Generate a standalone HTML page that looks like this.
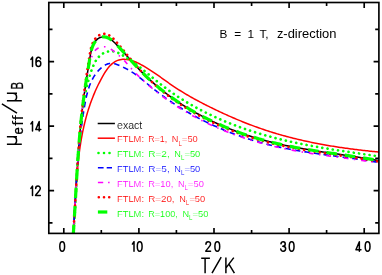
<!DOCTYPE html>
<html><head><meta charset="utf-8"><title>chart</title>
<style>html,body{margin:0;padding:0;background:#fff}svg{display:block}text{font-family:"Liberation Sans",sans-serif}</style>
</head><body>
<svg width="382" height="275" viewBox="0 0 382 275">
<rect width="382" height="275" fill="#fff"/>
<defs><filter id="id" x="0" y="0" width="100%" height="100%" filterUnits="userSpaceOnUse" primitiveUnits="userSpaceOnUse" color-interpolation-filters="sRGB"><feOffset dx="0" dy="0"/></filter></defs>
<g filter="url(#id)">
<defs><clipPath id="c"><rect x="48.8" y="2.5" width="330.1" height="230.9"/></clipPath></defs>
<g clip-path="url(#c)" fill="none" stroke-linejoin="round">

<path d="M72.53,244.97 L72.64,243.47 L72.75,241.97 L72.86,240.47 L72.97,238.97 L73.07,237.47 L73.18,235.97 L73.28,234.47 L73.38,232.97 L73.48,231.47 L73.58,229.96 L73.68,228.46 L73.78,226.96 L73.87,225.45 L73.97,223.95 L74.06,222.44 L74.16,220.94 L74.25,219.43 L74.34,217.93 L74.43,216.42 L74.52,214.91 L74.61,213.40 L74.70,211.90 L74.79,210.39 L74.88,208.88 L74.97,207.37 L75.06,205.86 L75.15,204.36 L75.23,202.85 L75.32,201.34 L75.41,199.83 L75.49,198.32 L75.58,196.81 L75.67,195.30 L75.75,193.79 L75.84,192.28 L75.93,190.77 L76.02,189.25 L76.10,187.74 L76.19,186.23 L76.28,184.72 L76.37,183.21 L76.46,181.70 L76.55,180.19 L76.64,178.68 L76.73,177.17 L76.82,175.66 L76.91,174.14 L77.01,172.63 L77.10,171.12 L77.20,169.61 L77.29,168.10 L77.39,166.59 L77.49,165.08 L77.59,163.57 L77.69,162.06 L77.79,160.55 L77.89,159.04 L78.00,157.53 L78.10,156.02 L78.21,154.51 L78.32,153.00 L78.42,151.49 L78.54,149.98 L78.65,148.48 L78.76,146.97 L78.88,145.46 L79.00,143.95 L79.12,142.44 L79.24,140.94 L79.36,139.43 L79.49,137.93 L79.61,136.42 L79.74,134.91 L79.88,133.41 L80.01,131.90 L80.15,130.40 L80.28,128.90 L80.42,127.39 L80.57,125.89 L80.71,124.39 L80.86,122.89 L81.01,121.39 L81.16,119.89 L81.32,118.39 L81.48,116.89 L81.64,115.39 L81.80,113.89 L81.97,112.39 L82.14,110.89 L82.31,109.40 L82.49,107.90 L82.66,106.41 L82.84,104.91 L83.03,103.42 L83.22,101.92 L83.41,100.43 L83.60,98.94 L83.80,97.45 L84.00,95.96 L84.20,94.47 L84.41,92.98 L84.62,91.49 L84.84,90.00 L85.06,88.52 L85.28,87.03 L85.50,85.54 L85.73,84.06 L85.95,82.57 L86.18,81.08 L86.42,79.59 L86.65,78.11 L86.89,76.62 L87.12,75.13 L87.36,73.63 L87.60,72.14 L87.84,70.64 L88.08,69.15 L88.32,67.65 L88.56,66.15 L88.80,64.64 L89.05,63.14 L89.29,61.63 L89.53,60.12 L89.77,58.61 L90.01,57.09 L90.26,55.57 L90.53,54.05 L90.83,52.53 L91.18,51.02 L91.58,49.50 L92.04,48.00 L92.58,46.49 L93.21,45.01 L93.92,43.58 L94.72,42.22 L95.61,40.96 L96.60,39.84 L97.68,38.87 L98.87,38.10 L100.13,37.51 L101.46,37.12 L102.82,36.91 L104.20,36.89 L105.56,37.05 L106.89,37.39 L108.18,37.90 L109.43,38.55 L110.65,39.33 L111.84,40.21 L113.00,41.19 L114.14,42.24 L115.26,43.33 L116.37,44.46 L117.46,45.61 L118.54,46.75 L119.61,47.90 L120.67,49.05 L121.73,50.20 L122.78,51.35 L123.82,52.49 L124.85,53.64 L125.88,54.78 L126.91,55.93 L127.93,57.07 L128.95,58.21 L129.97,59.34 L130.99,60.47 L132.00,61.60 L133.02,62.73 L134.04,63.85 L135.06,64.96 L136.08,66.07 L137.11,67.18 L138.14,68.27 L139.17,69.37 L140.21,70.45 L141.26,71.53 L142.31,72.60 L143.38,73.66 L144.45,74.72 L145.52,75.76 L146.60,76.80 L147.69,77.84 L148.79,78.86 L149.89,79.88 L151.01,80.89 L152.12,81.89 L153.25,82.89 L154.38,83.87 L155.52,84.85 L156.66,85.83 L157.81,86.79 L158.97,87.75 L160.13,88.70 L161.30,89.64 L162.47,90.57 L163.65,91.50 L164.84,92.42 L166.04,93.33 L167.23,94.24 L168.44,95.14 L169.65,96.03 L170.87,96.91 L172.09,97.79 L173.32,98.65 L174.55,99.52 L175.79,100.37 L177.04,101.22 L178.29,102.05 L179.54,102.89 L180.80,103.71 L182.07,104.53 L183.34,105.34 L184.61,106.14 L185.89,106.94 L187.18,107.72 L188.47,108.50 L189.77,109.28 L191.07,110.04 L192.37,110.80 L193.68,111.56 L194.99,112.30 L196.31,113.04 L197.63,113.77 L198.96,114.49 L200.29,115.21 L201.63,115.92 L202.97,116.62 L204.31,117.31 L205.66,118.00 L207.01,118.68 L208.37,119.35 L209.73,120.02 L211.09,120.68 L212.46,121.33 L213.83,121.97 L215.20,122.61 L216.58,123.24 L217.96,123.87 L219.34,124.48 L220.73,125.09 L222.12,125.70 L223.52,126.29 L224.92,126.88 L226.32,127.46 L227.72,128.04 L229.13,128.60 L230.54,129.17 L231.95,129.72 L233.36,130.27 L234.78,130.81 L236.20,131.34 L237.63,131.86 L239.05,132.38 L240.48,132.90 L241.91,133.40 L243.34,133.90 L244.78,134.39 L246.21,134.88 L247.65,135.35 L249.09,135.83 L250.54,136.29 L251.98,136.75 L253.43,137.20 L254.88,137.64 L256.33,138.08 L257.78,138.51 L259.24,138.93 L260.69,139.35 L262.15,139.76 L263.61,140.16 L265.07,140.56 L266.53,140.95 L267.99,141.33 L269.46,141.71 L270.92,142.08 L272.39,142.44 L273.85,142.80 L275.32,143.15 L276.79,143.49 L278.26,143.83 L279.73,144.16 L281.20,144.49 L282.68,144.81 L284.15,145.13 L285.62,145.44 L287.10,145.74 L288.58,146.04 L290.05,146.34 L291.53,146.63 L293.01,146.92 L294.49,147.20 L295.97,147.47 L297.45,147.75 L298.94,148.02 L300.42,148.28 L301.90,148.54 L303.39,148.80 L304.87,149.06 L306.36,149.31 L307.84,149.56 L309.33,149.80 L310.82,150.04 L312.30,150.28 L313.79,150.52 L315.28,150.76 L316.77,150.99 L318.26,151.22 L319.75,151.45 L321.24,151.68 L322.73,151.90 L324.22,152.13 L325.72,152.35 L327.21,152.57 L328.70,152.79 L330.19,153.01 L331.69,153.23 L333.18,153.45 L334.68,153.66 L336.17,153.88 L337.66,154.10 L339.16,154.32 L340.65,154.53 L342.15,154.75 L343.64,154.97 L345.14,155.19 L346.63,155.41 L348.13,155.63 L349.63,155.85 L351.12,156.07 L352.62,156.29 L354.11,156.52 L355.61,156.74 L357.10,156.97 L358.60,157.20 L360.09,157.43 L361.59,157.67 L363.08,157.90 L364.58,158.14 L366.07,158.38 L367.57,158.63 L369.06,158.88 L370.56,159.13 L372.05,159.38 L373.55,159.64 L375.04,159.90 L376.53,160.16 L378.03,160.43 L379.52,160.70" stroke="#000" stroke-width="1.5"/>
<path d="M72.47,244.93 L72.59,243.59 L72.70,242.24 L72.82,240.90 L72.93,239.55 L73.03,238.20 L73.14,236.85 L73.24,235.50 L73.33,234.14 L73.43,232.79 L73.52,231.43 L73.61,230.08 L73.70,228.72 L73.79,227.36 L73.88,226.00 L73.96,224.64 L74.04,223.28 L74.12,221.92 L74.20,220.55 L74.28,219.19 L74.36,217.83 L74.44,216.46 L74.51,215.09 L74.59,213.73 L74.66,212.36 L74.73,210.99 L74.81,209.62 L74.88,208.26 L74.96,206.89 L75.03,205.52 L75.10,204.15 L75.18,202.78 L75.25,201.41 L75.33,200.03 L75.40,198.66 L75.48,197.29 L75.56,195.92 L75.64,194.55 L75.72,193.18 L75.80,191.80 L75.88,190.43 L75.97,189.06 L76.05,187.69 L76.14,186.32 L76.23,184.95 L76.33,183.58 L76.42,182.20 L76.52,180.83 L76.62,179.46 L76.72,178.09 L76.83,176.72 L76.93,175.35 L77.04,173.99 L77.16,172.62 L77.28,171.25 L77.40,169.88 L77.52,168.52 L77.65,167.15 L77.78,165.78 L77.92,164.42 L78.06,163.06 L78.20,161.69 L78.35,160.33 L78.50,158.97 L78.66,157.61 L78.82,156.25 L78.99,154.89 L79.16,153.53 L79.34,152.18 L79.52,150.82 L79.70,149.47 L79.90,148.11 L80.09,146.76 L80.30,145.41 L80.51,144.06 L80.72,142.71 L80.94,141.37 L81.17,140.02 L81.41,138.68 L81.65,137.34 L81.89,136.00 L82.15,134.66 L82.41,133.32 L82.67,131.98 L82.95,130.65 L83.23,129.32 L83.52,127.98 L83.82,126.66 L84.12,125.33 L84.43,124.00 L84.75,122.68 L85.08,121.36 L85.41,120.04 L85.76,118.72 L86.11,117.40 L86.47,116.09 L86.84,114.78 L87.22,113.47 L87.60,112.16 L88.00,110.86 L88.40,109.55 L88.82,108.25 L89.24,106.96 L89.67,105.66 L90.12,104.37 L90.57,103.08 L91.03,101.79 L91.50,100.50 L91.98,99.22 L92.48,97.94 L92.98,96.66 L93.49,95.38 L94.01,94.11 L94.55,92.84 L95.09,91.57 L95.65,90.31 L96.22,89.05 L96.80,87.79 L97.39,86.54 L97.99,85.28 L98.60,84.03 L99.23,82.79 L99.86,81.54 L100.51,80.30 L101.17,79.07 L101.85,77.83 L102.53,76.60 L103.23,75.38 L103.94,74.16 L104.67,72.95 L105.42,71.77 L106.19,70.61 L106.98,69.48 L107.79,68.38 L108.64,67.32 L109.50,66.30 L110.40,65.34 L111.34,64.43 L112.30,63.58 L113.30,62.79 L114.34,62.07 L115.42,61.43 L116.54,60.86 L117.71,60.38 L118.92,59.99 L120.17,59.70 L121.46,59.49 L122.79,59.37 L124.14,59.33 L125.50,59.38 L126.88,59.50 L128.26,59.70 L129.64,59.97 L131.01,60.31 L132.36,60.71 L133.69,61.17 L135.01,61.69 L136.31,62.25 L137.60,62.85 L138.87,63.48 L140.13,64.14 L141.38,64.81 L142.61,65.49 L143.83,66.19 L145.03,66.90 L146.23,67.61 L147.41,68.34 L148.58,69.07 L149.74,69.81 L150.90,70.56 L152.04,71.31 L153.18,72.07 L154.31,72.84 L155.44,73.61 L156.55,74.38 L157.67,75.16 L158.78,75.94 L159.89,76.72 L160.99,77.51 L162.09,78.29 L163.19,79.08 L164.29,79.86 L165.39,80.65 L166.49,81.43 L167.59,82.21 L168.70,82.99 L169.80,83.77 L170.91,84.54 L172.03,85.31 L173.15,86.07 L174.27,86.82 L175.40,87.57 L176.53,88.32 L177.68,89.06 L178.82,89.79 L179.97,90.51 L181.13,91.23 L182.29,91.95 L183.46,92.66 L184.63,93.36 L185.80,94.06 L186.98,94.75 L188.17,95.44 L189.36,96.13 L190.55,96.80 L191.74,97.48 L192.94,98.15 L194.14,98.81 L195.35,99.47 L196.56,100.12 L197.77,100.77 L198.98,101.42 L200.20,102.06 L201.42,102.70 L202.64,103.33 L203.86,103.96 L205.09,104.59 L206.32,105.21 L207.55,105.83 L208.78,106.45 L210.01,107.06 L211.24,107.67 L212.47,108.27 L213.71,108.87 L214.95,109.47 L216.18,110.07 L217.42,110.66 L218.66,111.24 L219.90,111.83 L221.15,112.41 L222.39,112.99 L223.64,113.56 L224.88,114.13 L226.13,114.69 L227.38,115.25 L228.63,115.81 L229.88,116.37 L231.14,116.92 L232.39,117.46 L233.65,118.00 L234.91,118.54 L236.16,119.08 L237.42,119.61 L238.69,120.13 L239.95,120.65 L241.21,121.17 L242.48,121.68 L243.75,122.19 L245.02,122.70 L246.29,123.20 L247.56,123.70 L248.83,124.19 L250.11,124.68 L251.39,125.16 L252.66,125.64 L253.94,126.11 L255.23,126.58 L256.51,127.05 L257.79,127.51 L259.08,127.96 L260.37,128.41 L261.66,128.86 L262.95,129.30 L264.24,129.74 L265.54,130.17 L266.83,130.60 L268.13,131.02 L269.43,131.44 L270.73,131.85 L272.03,132.26 L273.34,132.67 L274.64,133.06 L275.95,133.46 L277.26,133.85 L278.57,134.23 L279.89,134.61 L281.20,134.98 L282.52,135.35 L283.83,135.72 L285.15,136.08 L286.47,136.44 L287.79,136.79 L289.12,137.14 L290.44,137.48 L291.77,137.82 L293.09,138.15 L294.42,138.48 L295.75,138.81 L297.08,139.13 L298.41,139.45 L299.75,139.76 L301.08,140.07 L302.41,140.37 L303.75,140.68 L305.09,140.97 L306.43,141.26 L307.77,141.55 L309.11,141.84 L310.45,142.12 L311.79,142.40 L313.13,142.67 L314.48,142.94 L315.82,143.21 L317.17,143.47 L318.51,143.73 L319.86,143.98 L321.21,144.23 L322.55,144.48 L323.90,144.72 L325.25,144.96 L326.60,145.20 L327.95,145.44 L329.31,145.67 L330.66,145.89 L332.01,146.12 L333.36,146.34 L334.72,146.55 L336.07,146.77 L337.43,146.98 L338.78,147.18 L340.14,147.39 L341.49,147.59 L342.85,147.79 L344.20,147.98 L345.56,148.18 L346.92,148.36 L348.27,148.55 L349.63,148.73 L350.99,148.92 L352.34,149.09 L353.70,149.27 L355.06,149.44 L356.42,149.61 L357.77,149.78 L359.13,149.94 L360.49,150.10 L361.84,150.26 L363.20,150.42 L364.56,150.57 L365.92,150.72 L367.27,150.87 L368.63,151.02 L369.99,151.17 L371.34,151.31 L372.70,151.45 L374.05,151.58 L375.41,151.72 L376.76,151.85 L378.12,151.98 L379.47,152.11" stroke="#f00" stroke-width="1.5"/>
<path d="M72.46,244.94 L72.59,243.53 L72.72,242.12 L72.84,240.71 L72.96,239.30 L73.08,237.89 L73.20,236.47 L73.31,235.06 L73.42,233.64 L73.53,232.23 L73.64,230.81 L73.74,229.39 L73.85,227.97 L73.95,226.55 L74.05,225.13 L74.14,223.71 L74.24,222.28 L74.33,220.86 L74.42,219.44 L74.51,218.01 L74.60,216.58 L74.69,215.16 L74.77,213.73 L74.86,212.30 L74.94,210.87 L75.02,209.44 L75.10,208.01 L75.18,206.58 L75.26,205.15 L75.34,203.72 L75.42,202.29 L75.49,200.86 L75.57,199.42 L75.65,197.99 L75.72,196.56 L75.80,195.12 L75.87,193.69 L75.95,192.26 L76.02,190.82 L76.10,189.39 L76.17,187.95 L76.25,186.52 L76.32,185.08 L76.40,183.64 L76.47,182.21 L76.55,180.77 L76.62,179.34 L76.70,177.90 L76.78,176.47 L76.86,175.03 L76.94,173.59 L77.02,172.16 L77.10,170.72 L77.18,169.29 L77.27,167.85 L77.35,166.42 L77.44,164.98 L77.53,163.55 L77.62,162.12 L77.71,160.68 L77.80,159.25 L77.89,157.82 L77.99,156.38 L78.09,154.95 L78.19,153.52 L78.29,152.09 L78.39,150.66 L78.50,149.23 L78.61,147.80 L78.72,146.37 L78.83,144.94 L78.95,143.51 L79.06,142.08 L79.18,140.66 L79.31,139.23 L79.43,137.81 L79.56,136.38 L79.70,134.96 L79.83,133.54 L79.97,132.11 L80.11,130.69 L80.26,129.27 L80.40,127.85 L80.55,126.43 L80.71,125.02 L80.87,123.60 L81.03,122.19 L81.20,120.77 L81.37,119.36 L81.54,117.95 L81.72,116.54 L81.90,115.13 L82.09,113.72 L82.28,112.31 L82.47,110.91 L82.67,109.50 L82.87,108.10 L83.08,106.70 L83.29,105.29 L83.51,103.90 L83.73,102.50 L83.96,101.10 L84.20,99.70 L84.44,98.31 L84.68,96.92 L84.94,95.52 L85.21,94.13 L85.48,92.74 L85.76,91.34 L86.06,89.95 L86.36,88.56 L86.67,87.17 L87.00,85.78 L87.34,84.38 L87.69,82.99 L88.06,81.60 L88.43,80.20 L88.83,78.81 L89.23,77.41 L89.66,76.02 L90.09,74.62 L90.55,73.22 L91.02,71.82 L91.51,70.42 L92.02,69.02 L92.55,67.62 L93.11,66.23 L93.70,64.87 L94.33,63.52 L95.00,62.22 L95.72,60.95 L96.49,59.73 L97.32,58.57 L98.21,57.47 L99.17,56.43 L100.20,55.48 L101.29,54.60 L102.44,53.82 L103.64,53.12 L104.89,52.52 L106.17,52.03 L107.47,51.64 L108.80,51.37 L110.14,51.22 L111.49,51.19 L112.83,51.29 L114.16,51.52 L115.49,51.87 L116.80,52.32 L118.10,52.87 L119.40,53.48 L120.68,54.15 L121.95,54.85 L123.20,55.59 L124.45,56.34 L125.68,57.10 L126.90,57.88 L128.11,58.67 L129.31,59.47 L130.50,60.28 L131.69,61.11 L132.86,61.95 L134.02,62.79 L135.18,63.65 L136.33,64.51 L137.48,65.38 L138.61,66.26 L139.75,67.15 L140.87,68.04 L141.99,68.94 L143.11,69.84 L144.23,70.75 L145.34,71.66 L146.45,72.57 L147.55,73.49 L148.66,74.40 L149.76,75.32 L150.86,76.24 L151.97,77.15 L153.07,78.07 L154.17,78.98 L155.28,79.89 L156.39,80.80 L157.50,81.70 L158.61,82.60 L159.73,83.50 L160.85,84.39 L161.97,85.27 L163.10,86.14 L164.24,87.01 L165.38,87.87 L166.52,88.73 L167.67,89.57 L168.83,90.41 L169.99,91.25 L171.15,92.07 L172.32,92.89 L173.49,93.70 L174.67,94.51 L175.85,95.30 L177.04,96.10 L178.23,96.88 L179.43,97.66 L180.63,98.43 L181.83,99.19 L183.04,99.95 L184.25,100.70 L185.47,101.44 L186.69,102.18 L187.92,102.91 L189.15,103.64 L190.38,104.35 L191.62,105.06 L192.86,105.77 L194.10,106.47 L195.35,107.16 L196.60,107.84 L197.86,108.52 L199.12,109.19 L200.38,109.86 L201.65,110.52 L202.92,111.17 L204.19,111.82 L205.47,112.46 L206.75,113.10 L208.04,113.73 L209.32,114.35 L210.61,114.97 L211.91,115.58 L213.20,116.18 L214.50,116.78 L215.81,117.38 L217.11,117.96 L218.42,118.54 L219.73,119.12 L221.04,119.69 L222.36,120.25 L223.68,120.81 L225.00,121.36 L226.33,121.91 L227.66,122.45 L228.99,122.99 L230.32,123.52 L231.65,124.04 L232.99,124.56 L234.33,125.07 L235.67,125.58 L237.02,126.08 L238.36,126.58 L239.71,127.07 L241.06,127.55 L242.41,128.03 L243.77,128.51 L245.12,128.98 L246.48,129.44 L247.84,129.90 L249.21,130.35 L250.57,130.80 L251.93,131.25 L253.30,131.69 L254.67,132.12 L256.04,132.55 L257.41,132.97 L258.79,133.39 L260.16,133.80 L261.54,134.21 L262.91,134.61 L264.29,135.01 L265.67,135.41 L267.05,135.79 L268.44,136.18 L269.82,136.56 L271.20,136.93 L272.59,137.30 L273.98,137.67 L275.36,138.03 L276.75,138.38 L278.14,138.73 L279.53,139.08 L280.92,139.42 L282.31,139.76 L283.70,140.09 L285.09,140.42 L286.49,140.75 L287.88,141.07 L289.27,141.38 L290.67,141.69 L292.06,142.00 L293.46,142.31 L294.85,142.61 L296.25,142.90 L297.65,143.20 L299.05,143.48 L300.44,143.77 L301.84,144.05 L303.24,144.33 L304.64,144.61 L306.04,144.88 L307.44,145.15 L308.85,145.41 L310.25,145.68 L311.65,145.94 L313.05,146.19 L314.46,146.45 L315.86,146.70 L317.27,146.95 L318.67,147.19 L320.08,147.44 L321.48,147.68 L322.89,147.92 L324.30,148.15 L325.71,148.39 L327.12,148.62 L328.52,148.85 L329.93,149.08 L331.34,149.31 L332.75,149.53 L334.16,149.75 L335.58,149.97 L336.99,150.19 L338.40,150.41 L339.81,150.63 L341.22,150.85 L342.64,151.06 L344.05,151.27 L345.47,151.49 L346.88,151.70 L348.30,151.91 L349.71,152.12 L351.13,152.32 L352.54,152.53 L353.96,152.74 L355.38,152.95 L356.80,153.15 L358.21,153.36 L359.63,153.56 L361.05,153.77 L362.47,153.97 L363.89,154.18 L365.31,154.38 L366.73,154.59 L368.15,154.79 L369.57,154.99 L371.00,155.20 L372.42,155.41 L373.84,155.61 L375.26,155.82 L376.69,156.02 L378.11,156.23 L379.53,156.44" stroke="#0f0" stroke-width="2.7" stroke-linecap="round" stroke-dasharray="0.01 5.30" stroke-dashoffset="4.79"/>
<path d="M72.56,245.05 L72.66,243.65 L72.75,242.25 L72.85,240.85 L72.94,239.45 L73.03,238.05 L73.12,236.65 L73.20,235.25 L73.29,233.86 L73.38,232.46 L73.46,231.07 L73.55,229.67 L73.63,228.28 L73.71,226.88 L73.79,225.49 L73.88,224.10 L73.96,222.71 L74.04,221.31 L74.12,219.92 L74.19,218.53 L74.27,217.14 L74.35,215.76 L74.43,214.37 L74.51,212.98 L74.58,211.59 L74.66,210.20 L74.74,208.82 L74.82,207.43 L74.90,206.05 L74.97,204.66 L75.05,203.28 L75.13,201.89 L75.21,200.51 L75.29,199.12 L75.37,197.74 L75.45,196.36 L75.53,194.97 L75.61,193.59 L75.69,192.21 L75.77,190.83 L75.86,189.45 L75.94,188.07 L76.03,186.68 L76.11,185.30 L76.20,183.92 L76.29,182.54 L76.38,181.16 L76.47,179.78 L76.56,178.41 L76.65,177.03 L76.75,175.65 L76.84,174.27 L76.94,172.89 L77.04,171.51 L77.14,170.13 L77.24,168.75 L77.35,167.38 L77.45,166.00 L77.56,164.62 L77.67,163.24 L77.78,161.86 L77.89,160.49 L78.01,159.11 L78.13,157.73 L78.25,156.35 L78.37,154.98 L78.49,153.60 L78.62,152.22 L78.75,150.84 L78.88,149.47 L79.01,148.09 L79.15,146.71 L79.29,145.33 L79.43,143.96 L79.57,142.58 L79.72,141.20 L79.87,139.82 L80.02,138.44 L80.18,137.06 L80.34,135.69 L80.50,134.31 L80.67,132.93 L80.83,131.55 L81.01,130.17 L81.18,128.79 L81.36,127.41 L81.54,126.03 L81.73,124.65 L81.92,123.27 L82.11,121.89 L82.30,120.51 L82.50,119.13 L82.71,117.75 L82.92,116.36 L83.13,114.98 L83.34,113.60 L83.56,112.22 L83.79,110.83 L84.01,109.45 L84.24,108.07 L84.48,106.68 L84.72,105.30 L84.97,103.91 L85.22,102.53 L85.48,101.15 L85.75,99.77 L86.03,98.39 L86.32,97.02 L86.63,95.66 L86.96,94.30 L87.30,92.94 L87.66,91.60 L88.04,90.27 L88.44,88.94 L88.87,87.63 L89.32,86.32 L89.80,85.03 L90.31,83.76 L90.84,82.50 L91.41,81.25 L92.01,80.02 L92.64,78.81 L93.31,77.61 L94.02,76.43 L94.77,75.28 L95.56,74.14 L96.39,73.03 L97.26,71.93 L98.18,70.87 L99.14,69.82 L100.15,68.81 L101.21,67.84 L102.30,66.92 L103.44,66.08 L104.61,65.32 L105.81,64.66 L107.04,64.12 L108.29,63.70 L109.57,63.43 L110.87,63.31 L112.18,63.35 L113.51,63.53 L114.84,63.82 L116.18,64.21 L117.51,64.69 L118.84,65.22 L120.15,65.79 L121.45,66.38 L122.74,66.99 L124.01,67.61 L125.26,68.25 L126.50,68.90 L127.73,69.57 L128.94,70.26 L130.13,70.96 L131.31,71.68 L132.48,72.42 L133.64,73.17 L134.78,73.95 L135.91,74.74 L137.03,75.55 L138.14,76.37 L139.23,77.21 L140.32,78.07 L141.40,78.93 L142.48,79.81 L143.55,80.69 L144.62,81.57 L145.69,82.46 L146.76,83.35 L147.82,84.25 L148.89,85.14 L149.96,86.02 L151.04,86.90 L152.12,87.77 L153.21,88.64 L154.30,89.51 L155.39,90.36 L156.49,91.22 L157.59,92.06 L158.69,92.90 L159.80,93.74 L160.92,94.57 L162.04,95.39 L163.16,96.21 L164.28,97.02 L165.41,97.83 L166.55,98.63 L167.68,99.42 L168.83,100.21 L169.97,101.00 L171.12,101.78 L172.27,102.55 L173.43,103.32 L174.59,104.08 L175.75,104.83 L176.92,105.58 L178.09,106.33 L179.26,107.07 L180.44,107.80 L181.62,108.53 L182.80,109.25 L183.99,109.97 L185.18,110.68 L186.38,111.38 L187.58,112.08 L188.78,112.78 L189.98,113.46 L191.19,114.15 L192.40,114.82 L193.62,115.49 L194.83,116.16 L196.05,116.82 L197.28,117.47 L198.50,118.12 L199.73,118.76 L200.96,119.40 L202.20,120.03 L203.44,120.66 L204.68,121.28 L205.92,121.89 L207.17,122.50 L208.42,123.10 L209.67,123.70 L210.93,124.29 L212.19,124.87 L213.45,125.45 L214.71,126.03 L215.98,126.60 L217.25,127.16 L218.52,127.72 L219.79,128.27 L221.07,128.81 L222.35,129.35 L223.63,129.89 L224.91,130.41 L226.20,130.94 L227.49,131.45 L228.78,131.96 L230.07,132.47 L231.37,132.97 L232.66,133.46 L233.96,133.95 L235.26,134.43 L236.57,134.91 L237.87,135.38 L239.18,135.84 L240.49,136.30 L241.81,136.76 L243.12,137.20 L244.44,137.65 L245.76,138.08 L247.08,138.51 L248.40,138.94 L249.72,139.35 L251.05,139.77 L252.37,140.17 L253.70,140.58 L255.04,140.97 L256.37,141.36 L257.70,141.74 L259.04,142.12 L260.38,142.49 L261.72,142.86 L263.06,143.22 L264.40,143.58 L265.74,143.93 L267.09,144.27 L268.43,144.61 L269.78,144.94 L271.13,145.26 L272.48,145.58 L273.83,145.90 L275.19,146.21 L276.54,146.51 L277.90,146.81 L279.26,147.10 L280.61,147.39 L281.97,147.67 L283.33,147.95 L284.69,148.23 L286.06,148.49 L287.42,148.76 L288.78,149.02 L290.15,149.28 L291.52,149.53 L292.88,149.78 L294.25,150.02 L295.62,150.26 L296.99,150.50 L298.36,150.73 L299.73,150.96 L301.10,151.19 L302.48,151.41 L303.85,151.63 L305.22,151.85 L306.60,152.07 L307.97,152.28 L309.35,152.49 L310.72,152.70 L312.10,152.90 L313.48,153.11 L314.85,153.31 L316.23,153.51 L317.61,153.70 L318.99,153.90 L320.36,154.09 L321.74,154.28 L323.12,154.47 L324.50,154.66 L325.88,154.85 L327.26,155.04 L328.64,155.23 L330.02,155.41 L331.40,155.60 L332.78,155.78 L334.16,155.96 L335.54,156.15 L336.91,156.33 L338.29,156.51 L339.67,156.70 L341.05,156.88 L342.43,157.06 L343.81,157.25 L345.19,157.43 L346.56,157.62 L347.94,157.80 L349.32,157.99 L350.70,158.18 L352.07,158.37 L353.45,158.56 L354.82,158.75 L356.20,158.94 L357.57,159.13 L358.94,159.33 L360.32,159.53 L361.69,159.73 L363.06,159.93 L364.43,160.13 L365.80,160.34 L367.17,160.55 L368.54,160.76 L369.91,160.97 L371.28,161.19 L372.64,161.40 L374.01,161.63 L375.37,161.85 L376.73,162.08 L378.10,162.31 L379.46,162.54" stroke="#00f" stroke-width="1.6" stroke-dasharray="5.6 4.057" stroke-dashoffset="6.5"/>
<path d="M72.60,244.98 L72.69,243.52 L72.77,242.05 L72.86,240.58 L72.95,239.12 L73.04,237.65 L73.12,236.19 L73.21,234.72 L73.30,233.25 L73.38,231.78 L73.47,230.32 L73.56,228.85 L73.64,227.38 L73.73,225.91 L73.81,224.44 L73.90,222.97 L73.98,221.50 L74.07,220.03 L74.15,218.56 L74.24,217.09 L74.32,215.62 L74.41,214.15 L74.49,212.68 L74.58,211.21 L74.67,209.74 L74.75,208.27 L74.84,206.79 L74.93,205.32 L75.01,203.85 L75.10,202.38 L75.19,200.91 L75.27,199.43 L75.36,197.96 L75.45,196.49 L75.54,195.02 L75.63,193.54 L75.72,192.07 L75.81,190.60 L75.90,189.12 L75.99,187.65 L76.08,186.18 L76.18,184.70 L76.27,183.23 L76.36,181.76 L76.46,180.28 L76.56,178.81 L76.65,177.34 L76.75,175.87 L76.85,174.39 L76.95,172.92 L77.05,171.45 L77.15,169.97 L77.25,168.50 L77.35,167.03 L77.45,165.56 L77.56,164.08 L77.66,162.61 L77.77,161.14 L77.88,159.67 L77.99,158.20 L78.10,156.72 L78.21,155.25 L78.32,153.78 L78.43,152.31 L78.55,150.84 L78.66,149.37 L78.78,147.90 L78.90,146.43 L79.02,144.96 L79.14,143.49 L79.26,142.02 L79.39,140.55 L79.51,139.08 L79.64,137.61 L79.77,136.15 L79.90,134.68 L80.03,133.21 L80.16,131.74 L80.30,130.28 L80.44,128.81 L80.57,127.34 L80.72,125.88 L80.86,124.41 L81.00,122.95 L81.15,121.48 L81.29,120.02 L81.44,118.56 L81.59,117.09 L81.75,115.63 L81.90,114.17 L82.06,112.71 L82.22,111.24 L82.38,109.78 L82.54,108.32 L82.71,106.86 L82.87,105.40 L83.04,103.95 L83.21,102.49 L83.39,101.03 L83.56,99.57 L83.74,98.12 L83.92,96.66 L84.10,95.20 L84.29,93.75 L84.47,92.29 L84.66,90.84 L84.86,89.39 L85.06,87.94 L85.26,86.48 L85.47,85.03 L85.68,83.58 L85.91,82.13 L86.14,80.68 L86.38,79.23 L86.63,77.78 L86.89,76.33 L87.16,74.88 L87.45,73.43 L87.74,71.98 L88.05,70.52 L88.38,69.07 L88.72,67.62 L89.07,66.17 L89.44,64.72 L89.83,63.27 L90.24,61.82 L90.66,60.37 L91.11,58.92 L91.58,57.47 L92.08,56.04 L92.64,54.65 L93.27,53.32 L93.98,52.07 L94.79,50.91 L95.72,49.87 L96.78,48.97 L97.95,48.21 L99.22,47.59 L100.55,47.14 L101.94,46.84 L103.36,46.71 L104.78,46.75 L106.19,46.98 L107.57,47.38 L108.90,47.96 L110.20,48.68 L111.46,49.50 L112.70,50.41 L113.91,51.36 L115.10,52.34 L116.27,53.31 L117.42,54.28 L118.56,55.26 L119.67,56.23 L120.77,57.22 L121.85,58.22 L122.90,59.23 L123.93,60.26 L124.93,61.31 L125.92,62.38 L126.89,63.47 L127.85,64.56 L128.80,65.66 L129.76,66.76 L130.72,67.86 L131.69,68.96 L132.67,70.04 L133.67,71.11 L134.68,72.18 L135.70,73.24 L136.73,74.29 L137.77,75.33 L138.82,76.37 L139.88,77.40 L140.95,78.42 L142.03,79.43 L143.12,80.43 L144.21,81.43 L145.31,82.42 L146.42,83.40 L147.53,84.37 L148.65,85.34 L149.77,86.30 L150.90,87.25 L152.04,88.20 L153.18,89.14 L154.33,90.07 L155.48,90.99 L156.63,91.91 L157.79,92.82 L158.96,93.72 L160.13,94.62 L161.31,95.51 L162.49,96.39 L163.68,97.27 L164.87,98.13 L166.06,98.99 L167.26,99.85 L168.47,100.70 L169.68,101.54 L170.89,102.37 L172.11,103.19 L173.34,104.01 L174.56,104.83 L175.80,105.63 L177.03,106.43 L178.27,107.22 L179.52,108.00 L180.77,108.78 L182.02,109.55 L183.28,110.32 L184.54,111.07 L185.81,111.82 L187.08,112.57 L188.36,113.30 L189.63,114.03 L190.92,114.76 L192.20,115.47 L193.49,116.18 L194.79,116.89 L196.08,117.58 L197.38,118.27 L198.69,118.96 L200.00,119.63 L201.31,120.30 L202.62,120.96 L203.94,121.62 L205.26,122.27 L206.59,122.91 L207.92,123.55 L209.25,124.18 L210.59,124.80 L211.92,125.42 L213.27,126.03 L214.61,126.63 L215.96,127.23 L217.31,127.82 L218.66,128.40 L220.02,128.98 L221.38,129.55 L222.74,130.11 L224.11,130.67 L225.47,131.22 L226.84,131.77 L228.22,132.31 L229.59,132.84 L230.97,133.36 L232.35,133.88 L233.73,134.40 L235.12,134.90 L236.51,135.40 L237.90,135.90 L239.29,136.38 L240.68,136.86 L242.08,137.34 L243.48,137.81 L244.88,138.27 L246.28,138.73 L247.69,139.18 L249.09,139.62 L250.50,140.06 L251.91,140.49 L253.33,140.91 L254.74,141.33 L256.16,141.74 L257.58,142.15 L258.99,142.55 L260.42,142.94 L261.84,143.33 L263.26,143.71 L264.69,144.09 L266.11,144.45 L267.54,144.82 L268.97,145.17 L270.40,145.53 L271.83,145.87 L273.27,146.21 L274.70,146.54 L276.14,146.87 L277.58,147.19 L279.01,147.51 L280.45,147.82 L281.89,148.13 L283.33,148.43 L284.78,148.73 L286.22,149.02 L287.66,149.31 L289.11,149.59 L290.56,149.87 L292.00,150.14 L293.45,150.41 L294.90,150.68 L296.35,150.94 L297.80,151.20 L299.25,151.46 L300.70,151.71 L302.15,151.95 L303.61,152.20 L305.06,152.44 L306.52,152.68 L307.97,152.91 L309.43,153.14 L310.88,153.37 L312.34,153.60 L313.80,153.82 L315.26,154.04 L316.71,154.26 L318.17,154.47 L319.63,154.69 L321.09,154.90 L322.55,155.11 L324.01,155.32 L325.47,155.52 L326.93,155.73 L328.39,155.93 L329.86,156.13 L331.32,156.33 L332.78,156.53 L334.24,156.73 L335.70,156.93 L337.16,157.13 L338.63,157.32 L340.09,157.52 L341.55,157.71 L343.01,157.91 L344.47,158.10 L345.94,158.30 L347.40,158.49 L348.86,158.69 L350.32,158.88 L351.78,159.07 L353.24,159.27 L354.70,159.47 L356.17,159.66 L357.63,159.86 L359.09,160.06 L360.55,160.26 L362.01,160.46 L363.47,160.66 L364.92,160.86 L366.38,161.07 L367.84,161.27 L369.30,161.48 L370.75,161.69 L372.21,161.90 L373.67,162.11 L375.12,162.33 L376.58,162.55 L378.03,162.77 L379.48,162.99" stroke="#f0f" stroke-width="1.6" stroke-dasharray="4.8 5.45 1.5 5.85" stroke-dashoffset="14.9"/>
<path d="M72.53,244.51 L72.64,243.01 L72.75,241.51 L72.86,240.01 L72.97,238.50 L73.07,237.00 L73.18,235.49 L73.28,233.98 L73.38,232.47 L73.48,230.96 L73.59,229.45 L73.68,227.94 L73.78,226.43 L73.88,224.91 L73.98,223.40 L74.07,221.88 L74.17,220.36 L74.26,218.85 L74.35,217.33 L74.45,215.81 L74.54,214.29 L74.63,212.77 L74.72,211.24 L74.81,209.72 L74.90,208.20 L74.99,206.68 L75.08,205.15 L75.17,203.63 L75.26,202.10 L75.35,200.58 L75.44,199.05 L75.53,197.52 L75.62,195.99 L75.71,194.47 L75.80,192.94 L75.89,191.41 L75.98,189.88 L76.06,188.35 L76.15,186.82 L76.24,185.29 L76.34,183.76 L76.43,182.23 L76.52,180.70 L76.61,179.17 L76.70,177.64 L76.79,176.11 L76.89,174.58 L76.98,173.05 L77.08,171.52 L77.17,169.99 L77.27,168.46 L77.37,166.92 L77.46,165.39 L77.56,163.86 L77.66,162.33 L77.76,160.80 L77.87,159.27 L77.97,157.74 L78.07,156.21 L78.18,154.68 L78.29,153.16 L78.39,151.63 L78.50,150.10 L78.62,148.57 L78.73,147.04 L78.84,145.52 L78.96,143.99 L79.07,142.46 L79.19,140.94 L79.31,139.41 L79.44,137.89 L79.56,136.37 L79.68,134.84 L79.81,133.32 L79.94,131.80 L80.07,130.28 L80.21,128.76 L80.34,127.24 L80.48,125.72 L80.62,124.20 L80.76,122.68 L80.90,121.17 L81.05,119.65 L81.20,118.14 L81.35,116.62 L81.50,115.11 L81.66,113.60 L81.82,112.09 L81.98,110.58 L82.14,109.07 L82.31,107.57 L82.48,106.06 L82.65,104.56 L82.82,103.05 L83.00,101.55 L83.18,100.05 L83.36,98.55 L83.55,97.05 L83.74,95.55 L83.93,94.06 L84.13,92.56 L84.32,91.07 L84.53,89.58 L84.73,88.09 L84.94,86.60 L85.15,85.10 L85.36,83.61 L85.57,82.12 L85.79,80.62 L86.01,79.12 L86.23,77.62 L86.46,76.12 L86.68,74.61 L86.91,73.10 L87.14,71.58 L87.38,70.06 L87.61,68.53 L87.85,67.00 L88.08,65.46 L88.32,63.92 L88.56,62.36 L88.80,60.80 L89.05,59.23 L89.29,57.66 L89.54,56.07 L89.79,54.48 L90.05,52.89 L90.34,51.31 L90.66,49.75 L91.02,48.21 L91.42,46.71 L91.87,45.24 L92.39,43.81 L92.98,42.44 L93.65,41.13 L94.40,39.88 L95.25,38.70 L96.20,37.61 L97.26,36.60 L98.44,35.69 L99.72,34.92 L101.07,34.32 L102.48,33.94 L103.92,33.83 L105.35,33.98 L106.74,34.33 L108.07,34.85 L109.34,35.52 L110.55,36.32 L111.73,37.23 L112.86,38.23 L113.96,39.31 L115.03,40.45 L116.08,41.62 L117.12,42.82 L118.14,44.02 L119.16,45.22 L120.18,46.42 L121.18,47.63 L122.19,48.83 L123.18,50.03 L124.18,51.23 L125.17,52.43 L126.15,53.63 L127.14,54.83 L128.12,56.02 L129.10,57.22 L130.09,58.40 L131.07,59.59 L132.06,60.77 L133.04,61.94 L134.03,63.11 L135.02,64.28 L136.02,65.44 L137.02,66.59 L138.03,67.73 L139.04,68.87 L140.06,70.00 L141.09,71.13 L142.12,72.24 L143.16,73.35 L144.21,74.45 L145.27,75.53 L146.34,76.61 L147.41,77.69 L148.50,78.75 L149.59,79.81 L150.68,80.85 L151.79,81.89 L152.90,82.92 L154.02,83.94 L155.15,84.96 L156.28,85.96 L157.42,86.96 L158.57,87.95 L159.73,88.93 L160.89,89.90 L162.06,90.87 L163.24,91.82 L164.42,92.77 L165.61,93.71 L166.81,94.64 L168.01,95.57 L169.22,96.48 L170.43,97.39 L171.65,98.29 L172.88,99.18 L174.12,100.06 L175.36,100.94 L176.60,101.81 L177.85,102.67 L179.11,103.52 L180.38,104.36 L181.64,105.20 L182.92,106.03 L184.20,106.85 L185.49,107.66 L186.78,108.46 L188.07,109.26 L189.38,110.05 L190.68,110.83 L191.99,111.60 L193.31,112.37 L194.63,113.13 L195.96,113.88 L197.29,114.62 L198.63,115.36 L199.97,116.08 L201.32,116.80 L202.67,117.52 L204.02,118.22 L205.38,118.92 L206.74,119.61 L208.11,120.29 L209.48,120.96 L210.86,121.63 L212.24,122.29 L213.62,122.94 L215.01,123.59 L216.40,124.23 L217.80,124.86 L219.20,125.48 L220.60,126.10 L222.00,126.70 L223.41,127.30 L224.83,127.90 L226.24,128.48 L227.66,129.06 L229.08,129.64 L230.51,130.20 L231.94,130.76 L233.37,131.31 L234.80,131.85 L236.24,132.39 L237.68,132.92 L239.12,133.44 L240.56,133.95 L242.01,134.46 L243.46,134.96 L244.91,135.45 L246.36,135.94 L247.82,136.42 L249.28,136.89 L250.74,137.36 L252.20,137.82 L253.66,138.27 L255.13,138.72 L256.60,139.15 L258.07,139.58 L259.54,140.01 L261.01,140.43 L262.48,140.84 L263.96,141.24 L265.43,141.64 L266.91,142.03 L268.39,142.41 L269.87,142.79 L271.35,143.16 L272.83,143.53 L274.31,143.88 L275.80,144.24 L277.28,144.58 L278.77,144.92 L280.25,145.25 L281.74,145.58 L283.23,145.90 L284.72,146.22 L286.21,146.53 L287.70,146.84 L289.19,147.14 L290.68,147.44 L292.17,147.73 L293.67,148.02 L295.16,148.30 L296.66,148.58 L298.15,148.85 L299.65,149.13 L301.15,149.39 L302.64,149.66 L304.14,149.92 L305.64,150.17 L307.14,150.43 L308.64,150.68 L310.14,150.92 L311.64,151.17 L313.14,151.41 L314.65,151.65 L316.15,151.89 L317.65,152.12 L319.16,152.36 L320.66,152.59 L322.17,152.82 L323.67,153.05 L325.18,153.27 L326.68,153.50 L328.19,153.72 L329.70,153.95 L331.20,154.17 L332.71,154.39 L334.22,154.61 L335.73,154.83 L337.23,155.05 L338.74,155.27 L340.25,155.49 L341.76,155.71 L343.27,155.93 L344.78,156.15 L346.29,156.37 L347.80,156.60 L349.31,156.82 L350.82,157.04 L352.33,157.27 L353.84,157.49 L355.35,157.72 L356.86,157.95 L358.38,158.18 L359.89,158.42 L361.40,158.65 L362.91,158.89 L364.42,159.13 L365.93,159.37 L367.44,159.62 L368.95,159.86 L370.47,160.12 L371.98,160.37 L373.49,160.63 L375.00,160.89 L376.51,161.15 L378.02,161.42 L379.53,161.69" stroke="#f00" stroke-width="2.7" stroke-linecap="round" stroke-dasharray="0.01 5.27" stroke-dashoffset="3.30"/>
<path d="M72.53,244.97 L72.64,243.47 L72.75,241.97 L72.86,240.47 L72.97,238.97 L73.07,237.47 L73.18,235.97 L73.28,234.47 L73.38,232.97 L73.48,231.47 L73.58,229.96 L73.68,228.46 L73.78,226.96 L73.87,225.45 L73.97,223.95 L74.06,222.44 L74.16,220.94 L74.25,219.43 L74.34,217.93 L74.43,216.42 L74.52,214.91 L74.61,213.40 L74.70,211.90 L74.79,210.39 L74.88,208.88 L74.97,207.37 L75.06,205.86 L75.15,204.36 L75.23,202.85 L75.32,201.34 L75.41,199.83 L75.49,198.32 L75.58,196.81 L75.67,195.30 L75.75,193.79 L75.84,192.28 L75.93,190.77 L76.02,189.25 L76.10,187.74 L76.19,186.23 L76.28,184.72 L76.37,183.21 L76.46,181.70 L76.55,180.19 L76.64,178.68 L76.73,177.17 L76.82,175.66 L76.91,174.14 L77.01,172.63 L77.10,171.12 L77.20,169.61 L77.29,168.10 L77.39,166.59 L77.49,165.08 L77.59,163.57 L77.69,162.06 L77.79,160.55 L77.89,159.04 L78.00,157.53 L78.10,156.02 L78.21,154.51 L78.32,153.00 L78.42,151.49 L78.54,149.98 L78.65,148.48 L78.76,146.97 L78.88,145.46 L79.00,143.95 L79.12,142.44 L79.24,140.94 L79.36,139.43 L79.49,137.93 L79.61,136.42 L79.74,134.91 L79.88,133.41 L80.01,131.90 L80.15,130.40 L80.28,128.90 L80.42,127.39 L80.57,125.89 L80.71,124.39 L80.86,122.89 L81.01,121.39 L81.16,119.89 L81.32,118.39 L81.48,116.89 L81.64,115.39 L81.80,113.89 L81.97,112.39 L82.14,110.89 L82.31,109.40 L82.49,107.90 L82.66,106.41 L82.84,104.91 L83.03,103.42 L83.22,101.92 L83.41,100.43 L83.60,98.94 L83.80,97.45 L84.00,95.96 L84.20,94.47 L84.41,92.98 L84.62,91.49 L84.84,90.00 L85.06,88.52 L85.28,87.03 L85.50,85.54 L85.73,84.06 L85.95,82.57 L86.18,81.08 L86.42,79.59 L86.65,78.11 L86.89,76.62 L87.12,75.13 L87.36,73.63 L87.60,72.14 L87.84,70.64 L88.08,69.15 L88.32,67.65 L88.56,66.15 L88.80,64.64 L89.05,63.14 L89.29,61.63 L89.53,60.12 L89.77,58.61 L90.01,57.09 L90.26,55.57 L90.53,54.05 L90.83,52.53 L91.18,51.02 L91.58,49.50 L92.04,48.00 L92.58,46.49 L93.21,45.01 L93.92,43.58 L94.72,42.22 L95.61,40.96 L96.60,39.84 L97.68,38.87 L98.87,38.10 L100.13,37.51 L101.46,37.12 L102.82,36.91 L104.20,36.89 L105.56,37.05 L106.89,37.39 L108.18,37.90 L109.43,38.55 L110.65,39.33 L111.84,40.21 L113.00,41.19 L114.14,42.24 L115.26,43.33 L116.37,44.46 L117.46,45.61 L118.54,46.75 L119.61,47.90 L120.67,49.05 L121.73,50.20 L122.78,51.35 L123.82,52.49 L124.85,53.64 L125.88,54.78 L126.91,55.93 L127.93,57.07 L128.95,58.21 L129.97,59.34 L130.99,60.47 L132.00,61.60 L133.02,62.73 L134.04,63.85 L135.06,64.96 L136.08,66.07 L137.11,67.18 L138.14,68.27 L139.17,69.37 L140.21,70.45 L141.26,71.53 L142.31,72.60 L143.38,73.66 L144.45,74.72 L145.52,75.76 L146.60,76.80 L147.69,77.84 L148.79,78.86 L149.89,79.88 L151.01,80.89 L152.12,81.89 L153.25,82.89 L154.38,83.87 L155.52,84.85 L156.66,85.83 L157.81,86.79 L158.97,87.75 L160.13,88.70 L161.30,89.64 L162.47,90.57 L163.65,91.50 L164.84,92.42 L166.04,93.33 L167.23,94.24 L168.44,95.14 L169.65,96.03 L170.87,96.91 L172.09,97.79 L173.32,98.65 L174.55,99.52 L175.79,100.37 L177.04,101.22 L178.29,102.05 L179.54,102.89 L180.80,103.71 L182.07,104.53 L183.34,105.34 L184.61,106.14 L185.89,106.94 L187.18,107.72 L188.47,108.50 L189.77,109.28 L191.07,110.04 L192.37,110.80 L193.68,111.56 L194.99,112.30 L196.31,113.04 L197.63,113.77 L198.96,114.49 L200.29,115.21 L201.63,115.92 L202.97,116.62 L204.31,117.31 L205.66,118.00 L207.01,118.68 L208.37,119.35 L209.73,120.02 L211.09,120.68 L212.46,121.33 L213.83,121.97 L215.20,122.61 L216.58,123.24 L217.96,123.87 L219.34,124.48 L220.73,125.09 L222.12,125.70 L223.52,126.29 L224.92,126.88 L226.32,127.46 L227.72,128.04 L229.13,128.60 L230.54,129.17 L231.95,129.72 L233.36,130.27 L234.78,130.81 L236.20,131.34 L237.63,131.86 L239.05,132.38 L240.48,132.90 L241.91,133.40 L243.34,133.90 L244.78,134.39 L246.21,134.88 L247.65,135.35 L249.09,135.83 L250.54,136.29 L251.98,136.75 L253.43,137.20 L254.88,137.64 L256.33,138.08 L257.78,138.51 L259.24,138.93 L260.69,139.35 L262.15,139.76 L263.61,140.16 L265.07,140.56 L266.53,140.95 L267.99,141.33 L269.46,141.71 L270.92,142.08 L272.39,142.44 L273.85,142.80 L275.32,143.15 L276.79,143.49 L278.26,143.83 L279.73,144.16 L281.20,144.49 L282.68,144.81 L284.15,145.13 L285.62,145.44 L287.10,145.74 L288.58,146.04 L290.05,146.34 L291.53,146.63 L293.01,146.92 L294.49,147.20 L295.97,147.47 L297.45,147.75 L298.94,148.02 L300.42,148.28 L301.90,148.54 L303.39,148.80 L304.87,149.06 L306.36,149.31 L307.84,149.56 L309.33,149.80 L310.82,150.04 L312.30,150.28 L313.79,150.52 L315.28,150.76 L316.77,150.99 L318.26,151.22 L319.75,151.45 L321.24,151.68 L322.73,151.90 L324.22,152.13 L325.72,152.35 L327.21,152.57 L328.70,152.79 L330.19,153.01 L331.69,153.23 L333.18,153.45 L334.68,153.66 L336.17,153.88 L337.66,154.10 L339.16,154.32 L340.65,154.53 L342.15,154.75 L343.64,154.97 L345.14,155.19 L346.63,155.41 L348.13,155.63 L349.63,155.85 L351.12,156.07 L352.62,156.29 L354.11,156.52 L355.61,156.74 L357.10,156.97 L358.60,157.20 L360.09,157.43 L361.59,157.67 L363.08,157.90 L364.58,158.14 L366.07,158.38 L367.57,158.63 L369.06,158.88 L370.56,159.13 L372.05,159.38 L373.55,159.64 L375.04,159.90 L376.53,160.16 L378.03,160.43 L379.52,160.70" stroke="#0f0" stroke-width="3.2" stroke-dasharray="10.6 7.944" stroke-dashoffset="8.72"/>
</g>
<g stroke="#000" stroke-width="1.65" fill="none"><rect x="48.8" y="2.5" width="330.1" height="230.9"/>
<path d="M63.8,2.5v5.5M63.8,233.4v-5.5M101.3,2.5v3.5M101.3,233.4v-3.5M138.9,2.5v5.5M138.9,233.4v-5.5M176.4,2.5v3.5M176.4,233.4v-3.5M214.0,2.5v5.5M214.0,233.4v-5.5M251.6,2.5v3.5M251.6,233.4v-3.5M289.1,2.5v5.5M289.1,233.4v-5.5M326.6,2.5v3.5M326.6,233.4v-3.5M364.2,2.5v5.5M364.2,233.4v-5.5M48.8,222.8h3.7M378.9,222.8h-3.7M48.8,190.6h5.3M378.9,190.6h-5.3M48.8,158.3h3.7M378.9,158.3h-3.7M48.8,126.1h5.3M378.9,126.1h-5.3M48.8,93.8h3.7M378.9,93.8h-3.7M48.8,61.6h5.3M378.9,61.6h-5.3M48.8,29.4h3.7M378.9,29.4h-3.7"/></g>
<g fill="none" stroke="#000" stroke-width="1.5" stroke-linejoin="round" stroke-linecap="round">
<path transform="translate(59.80,241.70) scale(1,0.990)" d="M2.4,0 C0.8,0 0,1.6 0,4.8 C0,8.0 0.8,9.6 2.4,9.6 C4.0,9.6 4.8,8.0 4.8,4.8 C4.8,1.6 4.0,0 2.4,0 Z"/>
<path transform="translate(132.40,241.70) scale(1,0.990)" d="M0,2.4 L1.6,0 V9.6"/>
<path transform="translate(137.30,241.70) scale(1,0.990)" d="M2.4,0 C0.8,0 0,1.6 0,4.8 C0,8.0 0.8,9.6 2.4,9.6 C4.0,9.6 4.8,8.0 4.8,4.8 C4.8,1.6 4.0,0 2.4,0 Z"/>
<path transform="translate(205.75,241.70) scale(1,0.990)" d="M0.2,2.5 C0.2,-0.8 4.8,-0.8 4.8,2.5 C4.8,4.4 2.0,6.4 0,9.6 H4.8"/>
<path transform="translate(214.90,241.70) scale(1,0.990)" d="M2.4,0 C0.8,0 0,1.6 0,4.8 C0,8.0 0.8,9.6 2.4,9.6 C4.0,9.6 4.8,8.0 4.8,4.8 C4.8,1.6 4.0,0 2.4,0 Z"/>
<path transform="translate(280.75,241.70) scale(1,0.990)" d="M0.2,2.1 C0.6,-0.7 4.5,-0.7 4.5,2.3 C4.5,3.9 3.4,4.5 2.0,4.5 C3.6,4.5 4.9,5.2 4.9,6.9 C4.9,10.4 0.4,10.4 0,7.4"/>
<path transform="translate(289.25,241.70) scale(1,0.990)" d="M2.4,0 C0.8,0 0,1.6 0,4.8 C0,8.0 0.8,9.6 2.4,9.6 C4.0,9.6 4.8,8.0 4.8,4.8 C4.8,1.6 4.0,0 2.4,0 Z"/>
<path transform="translate(355.95,241.70) scale(1,0.990)" d="M3.4,9.6 V0 L0,8.1 H5.0"/>
<path transform="translate(365.20,241.70) scale(1,0.990)" d="M2.4,0 C0.8,0 0,1.6 0,4.8 C0,8.0 0.8,9.6 2.4,9.6 C4.0,9.6 4.8,8.0 4.8,4.8 C4.8,1.6 4.0,0 2.4,0 Z"/>
<path transform="translate(30.90,57.05) scale(1,0.979)" d="M0,2.4 L1.6,0 V9.6"/>
<path transform="translate(36.00,57.05) scale(1,0.979)" d="M4.6,1.9 C4.1,-0.6 0,-0.9 0,4.2 V6.5 C0,10.6 4.8,10.6 4.8,6.5 C4.8,2.9 0.5,2.9 0.05,6.0"/>
<path transform="translate(30.90,121.55) scale(1,0.979)" d="M0,2.4 L1.6,0 V9.6"/>
<path transform="translate(35.80,121.55) scale(1,0.979)" d="M3.4,9.6 V0 L0,8.1 H5.0"/>
<path transform="translate(30.90,186.05) scale(1,0.979)" d="M0,2.4 L1.6,0 V9.6"/>
<path transform="translate(35.50,186.05) scale(1,0.979)" d="M0.2,2.5 C0.2,-0.8 4.8,-0.8 4.8,2.5 C4.8,4.4 2.0,6.4 0,9.6 H4.8"/>
</g>
<path d="M201.2,258.2H209.9M205.1,258.2V273.2M212.0,273.2L221.2,257.2M225.9,257.4V273.2M233.8,257.6L226.2,267.6M228.9,264.1L234.4,273.2" fill="none" stroke="#000" stroke-width="1.5"/>
<g transform="translate(17,145.1) rotate(-90)"><path d="M0.75,4.8V-10.1M0.75,-3.6C0.75,0.6 8.3,0.9 8.3,-4.2M8.3,-10.1V0" fill="none" stroke="#000" stroke-width="1.5"/><g font-size="15"><text x="10.5" y="6.0" textLength="7.3" lengthAdjust="spacingAndGlyphs" stroke="#000" stroke-width="0.3">e</text><text x="19.0" y="6.0" textLength="5.2" lengthAdjust="spacingAndGlyphs">f</text><text x="24.7" y="6.0" textLength="5.2" lengthAdjust="spacingAndGlyphs">f</text><text x="55.5" y="5.8" font-size="15.8" textLength="7.6" lengthAdjust="spacingAndGlyphs" stroke="#000" stroke-width="0.3">B</text></g><path d="M31.9,0L41.3,-15.1" stroke="#000" stroke-width="1.5"/><g transform="translate(43.5,0)"><path d="M0.75,4.8V-10.1M0.75,-3.6C0.75,0.6 8.3,0.9 8.3,-4.2M8.3,-10.1V0" fill="none" stroke="#000" stroke-width="1.5"/></g></g>
<g fill="#000"><g font-size="11.8"><text x="219.6" y="37.6">B</text><text x="234.3" y="37.6">=</text><text x="247.6" y="37.6">1</text><text x="259.4" y="37.6">T,</text></g><text x="276.9" y="37.7" font-size="12.3" textLength="59.6" lengthAdjust="spacingAndGlyphs">z-direction</text></g>
<g fill="none">
<path d="M97.7,123.5H114.9" stroke="#000" stroke-width="1.5"/>
<path d="M97.7,138.2H114.9" stroke="#f00" stroke-width="1.5"/>
<path d="M98.5,153.0H114.9" stroke="#0f0" stroke-width="2.6" stroke-linecap="round" stroke-dasharray="0.01 5.5"/>
<path d="M97.9,167.8H112" stroke="#00f" stroke-width="1.6" stroke-dasharray="5.7 3.1"/>
<path d="M97.9,182.5H111" stroke="#f0f" stroke-width="1.6" stroke-dasharray="5.3 4.9 1.5 4.8"/>
<path d="M98.8,197.2H113" stroke="#f00" stroke-width="2.6" stroke-linecap="round" stroke-dasharray="0.01 5.2"/>
<path d="M97.9,212.0H107.3" stroke="#0f0" stroke-width="3.2"/>
</g>
<g font-size="9.6" stroke="#fff" stroke-width="0.12">
<text x="117" y="128.5" fill="#000" font-size="10.5" textLength="25.3" lengthAdjust="spacingAndGlyphs">exact</text>
<g fill="#f00"><text x="117" y="142.4" textLength="27" lengthAdjust="spacingAndGlyphs">FTLM:</text>
<text x="148.2" y="142.4" textLength="19.0" lengthAdjust="spacingAndGlyphs">R=1,</text>
<text x="171.8" y="142.4" textLength="6.6" lengthAdjust="spacingAndGlyphs">N</text><text x="178.4" y="145.5" font-size="6.6" textLength="3.4" lengthAdjust="spacingAndGlyphs">L</text><text x="182.0" y="142.4" textLength="15.8" lengthAdjust="spacingAndGlyphs">=50</text></g>
<g fill="#0f0"><text x="117" y="157.3" textLength="27" lengthAdjust="spacingAndGlyphs">FTLM:</text>
<text x="148.2" y="157.3" textLength="21.5" lengthAdjust="spacingAndGlyphs">R=2,</text>
<text x="174.3" y="157.3" textLength="6.6" lengthAdjust="spacingAndGlyphs">N</text><text x="180.9" y="160.4" font-size="6.6" textLength="3.4" lengthAdjust="spacingAndGlyphs">L</text><text x="184.5" y="157.3" textLength="15.8" lengthAdjust="spacingAndGlyphs">=50</text></g>
<g fill="#00f"><text x="117" y="172.2" textLength="27" lengthAdjust="spacingAndGlyphs">FTLM:</text>
<text x="148.2" y="172.2" textLength="21.5" lengthAdjust="spacingAndGlyphs">R=5,</text>
<text x="174.3" y="172.2" textLength="6.6" lengthAdjust="spacingAndGlyphs">N</text><text x="180.9" y="175.3" font-size="6.6" textLength="3.4" lengthAdjust="spacingAndGlyphs">L</text><text x="184.5" y="172.2" textLength="15.8" lengthAdjust="spacingAndGlyphs">=50</text></g>
<g fill="#f0f"><text x="117" y="187.1" textLength="27" lengthAdjust="spacingAndGlyphs">FTLM:</text>
<text x="148.2" y="187.1" textLength="25.1" lengthAdjust="spacingAndGlyphs">R=10,</text>
<text x="177.9" y="187.1" textLength="6.6" lengthAdjust="spacingAndGlyphs">N</text><text x="184.5" y="190.2" font-size="6.6" textLength="3.4" lengthAdjust="spacingAndGlyphs">L</text><text x="188.1" y="187.1" textLength="15.8" lengthAdjust="spacingAndGlyphs">=50</text></g>
<g fill="#f00"><text x="117" y="202.0" textLength="27" lengthAdjust="spacingAndGlyphs">FTLM:</text>
<text x="148.2" y="202.0" textLength="26.4" lengthAdjust="spacingAndGlyphs">R=20,</text>
<text x="179.2" y="202.0" textLength="6.6" lengthAdjust="spacingAndGlyphs">N</text><text x="185.8" y="205.1" font-size="6.6" textLength="3.4" lengthAdjust="spacingAndGlyphs">L</text><text x="189.4" y="202.0" textLength="15.8" lengthAdjust="spacingAndGlyphs">=50</text></g>
<g fill="#0f0"><text x="117" y="216.9" textLength="27" lengthAdjust="spacingAndGlyphs">FTLM:</text>
<text x="148.2" y="216.9" textLength="29.6" lengthAdjust="spacingAndGlyphs">R=100,</text>
<text x="182.4" y="216.9" textLength="6.6" lengthAdjust="spacingAndGlyphs">N</text><text x="189.0" y="220.0" font-size="6.6" textLength="3.4" lengthAdjust="spacingAndGlyphs">L</text><text x="192.6" y="216.9" textLength="15.8" lengthAdjust="spacingAndGlyphs">=50</text></g>
</g>
</g></svg></body></html>
